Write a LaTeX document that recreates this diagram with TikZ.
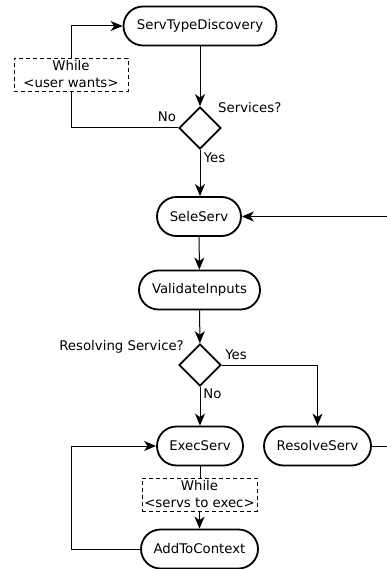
\documentclass[tikz,border=0pt]{standalone}
\usepackage{fontspec}
\setmainfont{DejaVu Sans}
\usetikzlibrary{shapes.geometric,arrows.meta}
\begin{document}
\begin{tikzpicture}[x=1pt,y=-1pt,
  every node/.style={font=\fontsize{13.3}{17}\selectfont},
  activity/.style={draw,line width=1.8pt,rounded corners=19.5pt,minimum height=39pt,inner sep=0pt},
  choice/.style={draw,diamond,line width=1.8pt,minimum width=42pt,minimum height=42pt,inner sep=0pt},
  guard/.style={draw,dash pattern=on 4pt off 3pt,line width=0.8pt,fill=white,align=center,minimum height=33pt,inner sep=0pt},
  flow/.style={line width=1pt},
  arr/.style={flow,-{Stealth[length=12pt,width=10pt,inset=3.5pt]}},
  lbl/.style={inner sep=0pt}]
\clip (0,0) rectangle (387,569);
\fill[white] (0,0) rectangle (387,569);

% activities
\node[activity,minimum width=153pt] (std) at (200,26) {ServTypeDiscovery};
\node[choice] (d1) at (200,128) {};
\node[guard,minimum width=114pt] (w1) at (71,74.5) {While\\<user wants>};
\node[activity,minimum width=84pt] (sel) at (199,216.5) {SeleServ};
\node[activity,minimum width=121pt] (val) at (199.5,290) {ValidateInputs};
\node[choice] (d2) at (200,365) {};
\node[activity,minimum width=86pt] (exec) at (200,446) {ExecServ};
\node[activity,minimum width=107pt] (res) at (317.5,446) {ResolveServ};
\node[guard,minimum width=115pt] (w2) at (199.5,494.5) {While\\<servs to exec>};
\node[activity,minimum width=117pt] (add) at (199.5,549) {AddToContext};

% labels
\node[lbl,anchor=west] at (218,108) {Services?};
\node[lbl] at (167,117) {No};
\node[lbl] at (214.5,158) {Yes};
\node[lbl,anchor=east] at (184,347) {Resolving Service?};
\node[lbl] at (236,355) {Yes};
\node[lbl] at (212.5,394) {No};

% loop points
\coordinate (loopA) at (71,549);
\coordinate (loopR) at (400,446);

% connectors
\draw[arr] (std) -- (d1);
\draw[flow] (d1.west) -| (w1.south);
\draw[arr] (w1.north) |- (std.west);
\draw[arr] (d1.south) -- (d1.south |- sel.north);
\draw[arr] (sel) -- (val);
\draw[arr] (val) -- (d2);
\draw[arr] (d2.east) -| (res.north);
\draw[arr] (d2.south) -- (d2.south |- exec.north);
\draw[flow] (exec.south) -- (exec.south |- w2.north);
\draw[arr] (w2.south) -- (w2.south |- add.north);
\draw[arr] (add.west) -- (loopA) |- (exec.west);
\draw[arr] (res.east) -- (loopR) |- (sel.east);
\end{tikzpicture}
\end{document}
